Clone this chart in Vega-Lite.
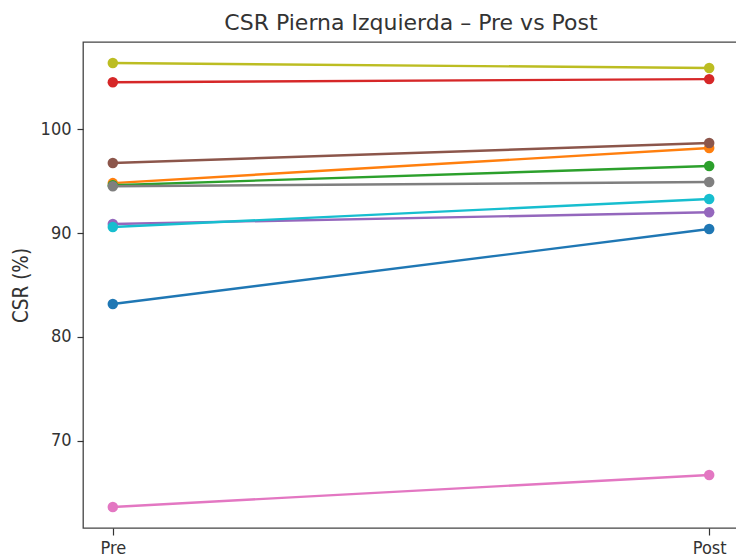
{
  "$schema": "https://vega.github.io/schema/vega-lite/v6.json",
  "autosize": {"type": "none"},
  "width": 656,
  "height": 486,
  "padding": {"left": 83, "top": 42, "right": -3, "bottom": 31},
  "background": "white",
  "config": {
    "view": {"stroke": "#444444", "strokeWidth": 1.3},
    "font": "DejaVu Sans Condensed, DejaVu Sans",
    "axis": {"grid": false, "domain": false, "tickColor": "#333333", "tickWidth": 1.2, "labelColor": "#333333", "labelFont": "DejaVu Sans Condensed, DejaVu Sans", "labelFontSize": 18, "titleFont": "DejaVu Sans Condensed, DejaVu Sans", "titleFontSize": 20.5, "titleFontWeight": "normal", "titleColor": "#333333"}
  },
  "title": {"text": "CSR Pierna Izquierda – Pre vs Post", "font": "DejaVu Sans", "fontSize": 22, "fontWeight": "normal", "color": "#333333", "anchor": "middle", "offset": 7},
  "data": {"values": [
    {"s": "S1", "fase": "Pre", "csr": 83.17}, {"s": "S1", "fase": "Post", "csr": 90.38},
    {"s": "S2", "fase": "Pre", "csr": 94.8}, {"s": "S2", "fase": "Post", "csr": 98.17},
    {"s": "S3", "fase": "Pre", "csr": 94.6}, {"s": "S3", "fase": "Post", "csr": 96.44},
    {"s": "S4", "fase": "Pre", "csr": 104.5}, {"s": "S4", "fase": "Post", "csr": 104.8},
    {"s": "S5", "fase": "Pre", "csr": 90.87}, {"s": "S5", "fase": "Post", "csr": 92.0},
    {"s": "S6", "fase": "Pre", "csr": 96.73}, {"s": "S6", "fase": "Post", "csr": 98.65},
    {"s": "S7", "fase": "Pre", "csr": 63.65}, {"s": "S7", "fase": "Post", "csr": 66.73},
    {"s": "S8", "fase": "Pre", "csr": 94.5}, {"s": "S8", "fase": "Post", "csr": 94.9},
    {"s": "S9", "fase": "Pre", "csr": 106.35}, {"s": "S9", "fase": "Post", "csr": 105.87},
    {"s": "S10", "fase": "Pre", "csr": 90.58}, {"s": "S10", "fase": "Post", "csr": 93.27}
  ]},
  "encoding": {
    "x": {"field": "fase", "type": "nominal", "sort": ["Pre", "Post"], "scale": {"type": "point", "padding": 0.05}, "axis": {"title": null, "labelAngle": 0, "tickSize": 7, "labelPadding": 4}},
    "y": {"field": "csr", "type": "quantitative", "scale": {"domain": [61.63, 108.37], "zero": false, "nice": false}, "axis": {"title": "CSR (%)", "values": [70, 80, 90, 100], "tickSize": 6, "labelPadding": 6, "titlePadding": 9}},
    "color": {"field": "s", "type": "nominal", "legend": null, "scale": {"domain": ["S1","S2","S3","S4","S5","S6","S7","S8","S9","S10"], "range": ["#1f77b4","#ff7f0e","#2ca02c","#d62728","#9467bd","#8c564b","#e377c2","#7f7f7f","#bcbd22","#17becf"]}}
  },
  "layer": [
    {"mark": {"type": "line", "strokeWidth": 2.4}},
    {"mark": {"type": "point", "filled": true, "opacity": 1, "size": 110}}
  ]
}
